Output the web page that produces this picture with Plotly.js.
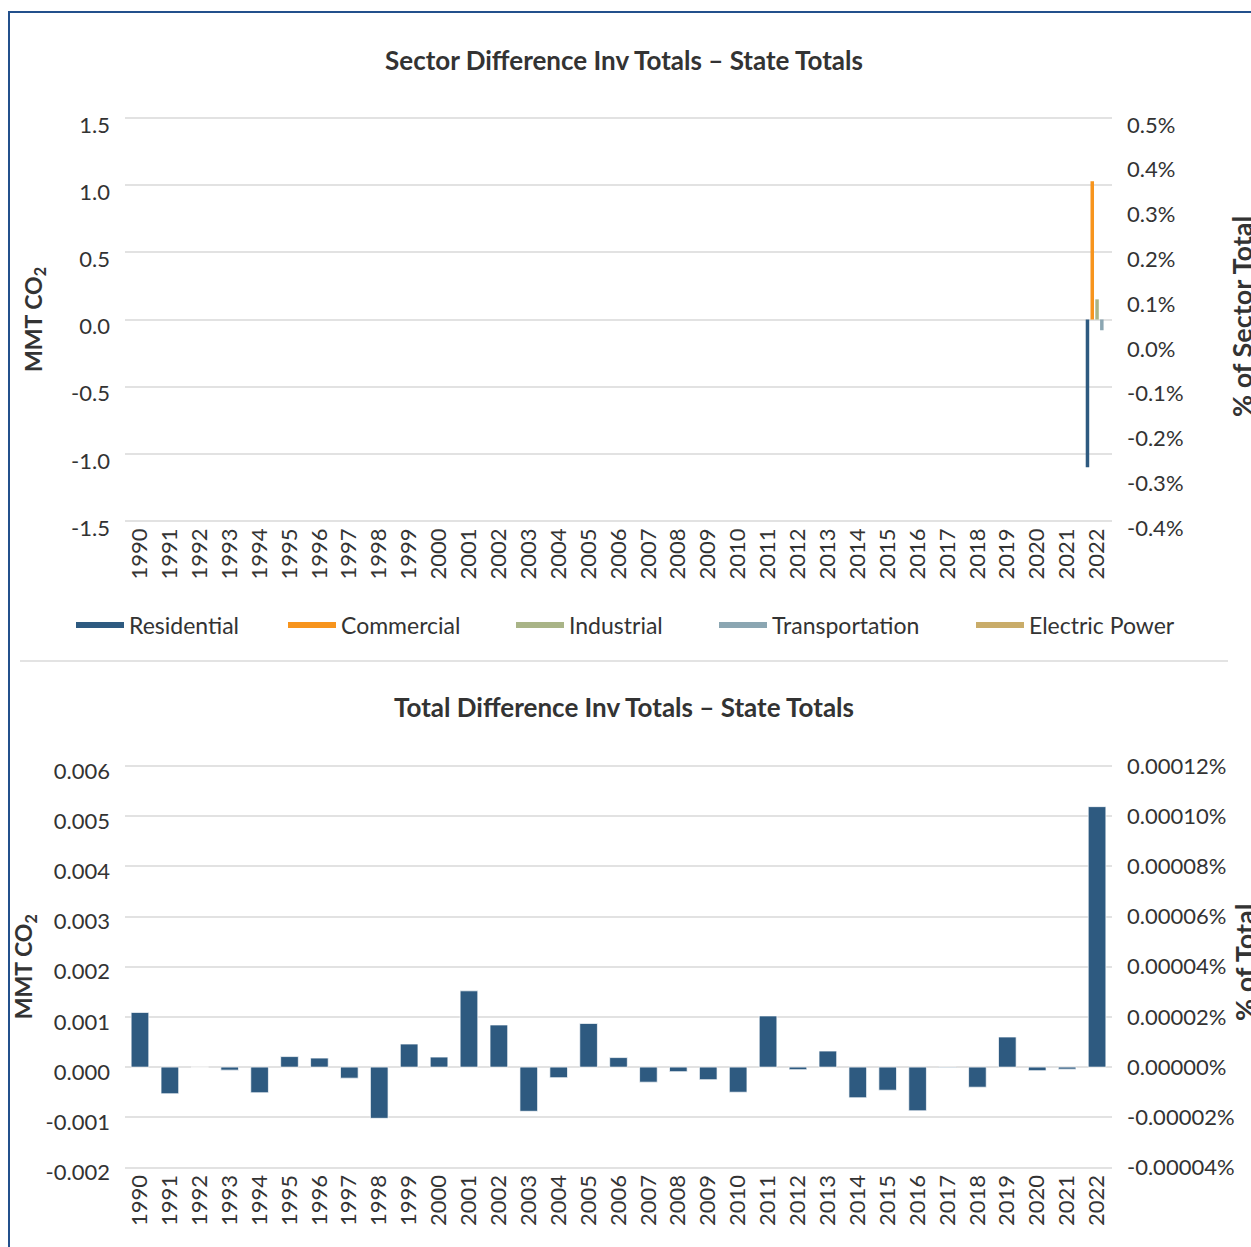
<!DOCTYPE html>
<html>
<head>
<meta charset="utf-8">
<script src="https://cdn.plot.ly/plotly-3.0.1.min.js"></script>
<style>
  html, body { margin: 0; padding: 0; background: #ffffff; }
  #chart { width: 1251px; height: 1247px; }
</style>
</head>
<body>
<div id="chart"></div>
<script>
// ---------- DATA ----------
var years = ['1990','1991','1992','1993','1994','1995','1996','1997','1998','1999',
             '2000','2001','2002','2003','2004','2005','2006','2007','2008','2009',
             '2010','2011','2012','2013','2014','2015','2016','2017','2018','2019',
             '2020','2021','2022'];

var sectorNames = ['Residential', 'Commercial', 'Industrial', 'Transportation', 'Electric Power'];

// Sector differences (MMT CO2) by year
var residential    = [0,0,0,0,0,0,0,0,0,0, 0,0,0,0,0,0,0,0,0,0, 0,0,0,0,0,0,0,0,0,0, 0,0,-1.10];
var commercial     = [0,0,0,0,0,0,0,0,0,0, 0,0,0,0,0,0,0,0,0,0, 0,0,0,0,0,0,0,0,0,0, 0,0,1.03];
var industrial     = [0,0,0,0,0,0,0,0,0,0, 0,0,0,0,0,0,0,0,0,0, 0,0,0,0,0,0,0,0,0,0, 0,0,0.15];
var transportation = [0,0,0,0,0,0,0,0,0,0, 0,0,0,0,0,0,0,0,0,0, 0,0,0,0,0,0,0,0,0,0, 0,0,-0.08];
var electricPower  = [0,0,0,0,0,0,0,0,0,0, 0,0,0,0,0,0,0,0,0,0, 0,0,0,0,0,0,0,0,0,0, 0,0,0];

// Total differences (MMT CO2) by year
var totalDiff = [0.00109,-0.00053,0.00000,-0.00006,-0.00051,0.00021,0.00018,-0.00022,-0.00102,0.00046,
                 0.00020,0.00152,0.00084,-0.00088,-0.00021,0.00087,0.00019,-0.00030,-0.00009,-0.00025,
                 -0.00050,0.00102,-0.00005,0.00032,-0.00061,-0.00046,-0.00087,-0.00001,-0.00040,0.00060,
                 -0.00007,-0.00004,0.00519];

// Axis ranges and tick values / labels
var topLeftRange  = [-1.5, 1.5];
var topRightRange = [-0.4, 0.5];
var botLeftRange  = [-0.002, 0.006];
var botRightRange = [-0.00004, 0.00012];

var topLeftTicks   = [-1.5,-1.0,-0.5,0.0,0.5,1.0,1.5];
var topRightTicks  = [-0.4,-0.3,-0.2,-0.1,0.0,0.1,0.2,0.3,0.4,0.5];
var botLeftTicks   = [-0.002,-0.001,0,0.001,0.002,0.003,0.004,0.005,0.006];
var botRightTicks  = [-0.00004,-0.00002,0,0.00002,0.00004,0.00006,0.00008,0.00010,0.00012];

var topLeftLabels  = topLeftTicks.map(function(v){ return v.toFixed(1); });
var topRightLabels = topRightTicks.map(function(v){ return v.toFixed(1) + '%'; });
var botLeftLabels  = botLeftTicks.map(function(v){ return v.toFixed(3); });
var botRightLabels = botRightTicks.map(function(v){ return v.toFixed(5) + '%'; });

// ---------- STYLE / LAYOUT ----------
var W = 1251, H = 1247;
var colors = ['#2e5a80', '#f7941d', '#a9b487', '#8ba6b2', '#c9ac69'];
var FONT = 'Lato, "Source Sans Pro", "Noto Sans", sans-serif';
var txt = '#333333';
var grid = '#e2e2e2';
var PAD = 2; // px of padding so edge gridlines are drawn

// plot boxes in pixels (gridline extents)
var plotX = [125, 1112];
var topY = [118, 521];
var botY = [766, 1167.5];

function padRange(r, pxLen) {
  var per = (r[1] - r[0]) / pxLen;
  return [r[0] - PAD * per, r[1] + PAD * per];
}
var xDomain = [plotX[0] / W, plotX[1] / W];
var topDom = [1 - (topY[1] + PAD) / H, 1 - (topY[0] - PAD) / H];
var botDom = [1 - (botY[1] + PAD) / H, 1 - (botY[0] - PAD) / H];

var sectorSeries = [residential, commercial, industrial, transportation, electricPower];
var legendIds = ['legend', 'legend2', 'legend3', 'legend4', 'legend5'];
var legendX = [71, 283, 511, 714, 971];

var traces = [];
sectorSeries.forEach(function(vals, i) {
  traces.push({
    type: 'bar', x: years, y: vals, name: sectorNames[i],
    xaxis: 'x', yaxis: 'y', showlegend: false,
    marker: { color: colors[i], line: { width: 0 } },
    hoverinfo: 'x+y+name'
  });
});
// legend entries (line style symbols), one legend box each
sectorNames.forEach(function(n, i) {
  traces.push({
    type: 'scatter', mode: 'lines', x: [null], y: [null], name: n,
    xaxis: 'x', yaxis: 'y', showlegend: true, legend: legendIds[i],
    line: { color: colors[i], width: 6 }, hoverinfo: 'skip'
  });
});
// placeholders so the right-hand axes are drawn
traces.push({ type: 'scatter', mode: 'lines', x: [null], y: [null], xaxis: 'x', yaxis: 'y2', showlegend: false, hoverinfo: 'skip' });
traces.push({ type: 'scatter', mode: 'lines', x: [null], y: [null], xaxis: 'x2', yaxis: 'y4', showlegend: false, hoverinfo: 'skip' });

traces.push({
  type: 'bar', x: years, y: totalDiff, name: 'Total',
  xaxis: 'x2', yaxis: 'y3', showlegend: false, width: 0.59,
  marker: { color: '#2e5a80', line: { color: 'rgba(255,255,255,0.7)', width: 1 } }
});

var tickFont = { family: FONT, size: 22, color: txt };
var axTitleFont = { family: FONT, size: 23, color: txt, weight: 'bold' };
var rightTitleFont = { family: FONT, size: 27, color: txt, weight: 'bold' };
var titleFont = { family: FONT, size: 26, color: txt, weight: 'bold' };
var legendFont = { family: FONT, size: 23, color: txt };

var layout = {
  width: W, height: H,
  margin: { l: 0, r: 0, t: 0, b: 0 },
  paper_bgcolor: '#ffffff', plot_bgcolor: '#ffffff',
  font: { family: FONT, color: txt },
  barmode: 'group', bargap: 0.2, bargroupgap: 0.27,
  title: {
    text: 'Sector Difference Inv Totals – State Totals',
    font: titleFont,
    x: 624 / W, xanchor: 'center', xref: 'paper',
    y: 1 - 61 / H, yanchor: 'middle', yref: 'paper'
  },
  showlegend: true,
  xaxis: {
    domain: xDomain, anchor: 'y', type: 'category', categoryorder: 'array', categoryarray: years,
    showgrid: false, zeroline: false, showline: false, ticks: '',
    tickangle: -90, tickfont: tickFont, automargin: false
  },
  yaxis: {
    domain: topDom, anchor: 'x', range: padRange(topLeftRange, topY[1] - topY[0]), tickmode: 'array',
    tickvals: topLeftTicks, ticktext: topLeftLabels, tickfont: tickFont,
    showgrid: true, gridcolor: grid, gridwidth: 1.5, zeroline: false, showline: false, ticks: '',
    ticklabelshift: 7, ticklabelstandoff: 14, automargin: false,
    title: { text: 'MMT CO<sub>2</sub>', font: axTitleFont, standoff: 22 }
  },
  yaxis2: {
    overlaying: 'y', anchor: 'x', side: 'right', range: padRange(topRightRange, topY[1] - topY[0]), tickmode: 'array',
    tickvals: topRightTicks, ticktext: topRightLabels, tickfont: tickFont,
    showgrid: false, zeroline: false, showline: false, ticks: '',
    ticklabelshift: 7, ticklabelstandoff: 14, automargin: false
  },
  xaxis2: {
    domain: xDomain, anchor: 'y3', type: 'category', categoryorder: 'array', categoryarray: years,
    showgrid: false, zeroline: false, showline: false, ticks: '',
    tickangle: -90, tickfont: tickFont, automargin: false
  },
  yaxis3: {
    domain: botDom, anchor: 'x2', range: padRange(botLeftRange, botY[1] - botY[0]), tickmode: 'array',
    tickvals: botLeftTicks, ticktext: botLeftLabels, tickfont: tickFont,
    showgrid: true, gridcolor: grid, gridwidth: 1.5, zeroline: false, showline: false, ticks: '',
    ticklabelshift: 5, ticklabelstandoff: 14, automargin: false,
    title: { text: 'MMT CO<sub>2</sub>', font: axTitleFont, standoff: 6 }
  },
  yaxis4: {
    overlaying: 'y3', anchor: 'x2', side: 'right', range: padRange(botRightRange, botY[1] - botY[0]), tickmode: 'array',
    tickvals: botRightTicks, ticktext: botRightLabels, tickfont: tickFont,
    showgrid: false, zeroline: false, showline: false, ticks: '',
    ticklabelstandoff: 14, automargin: false
  },
  annotations: [
    {
      text: 'Total Difference Inv Totals – State Totals',
      font: titleFont,
      x: 624 / W, xref: 'paper', xanchor: 'center',
      y: 1 - 707 / H, yref: 'paper', yanchor: 'middle', showarrow: false
    },
    {
      text: '% of Sector Total', font: rightTitleFont, textangle: -90,
      x: 1241 / W, xref: 'paper', xanchor: 'center',
      y: 1 - 317 / H, yref: 'paper', yanchor: 'middle', showarrow: false
    },
    {
      text: '% of Total', font: rightTitleFont, textangle: -90,
      x: 1245 / W, xref: 'paper', xanchor: 'center',
      y: 1 - 963 / H, yref: 'paper', yanchor: 'middle', showarrow: false
    }
  ],
  shapes: [
    { type: 'rect', xref: 'paper', yref: 'paper', x0: 9 / W, x1: 1.05, y0: -0.05, y1: 1 - 12 / H,
      line: { color: '#23508c', width: 2 }, fillcolor: 'rgba(0,0,0,0)', layer: 'above' },
    { type: 'line', xref: 'paper', yref: 'paper', x0: 20 / W, x1: 1228 / W,
      y0: 1 - 661 / H, y1: 1 - 661 / H, line: { color: '#e3e3e3', width: 2 } }
  ]
};

legendIds.forEach(function(id, i) {
  layout[id] = {
    orientation: 'h', x: legendX[i] / W, xanchor: 'left', y: 1 - 625 / H, yanchor: 'middle',
    font: legendFont, itemwidth: 48, bgcolor: 'rgba(0,0,0,0)'
  };
});

Plotly.newPlot('chart', traces, layout, { displayModeBar: false, responsive: false });
</script>
</body>
</html>
